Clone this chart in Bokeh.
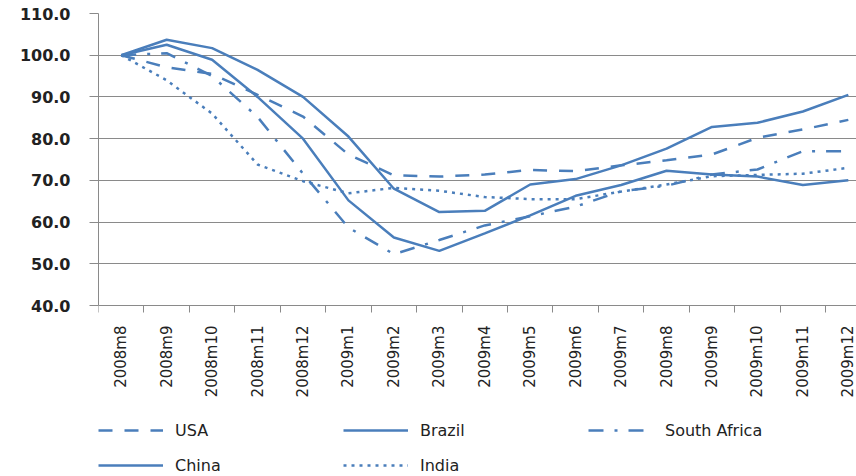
import math

from bokeh.plotting import figure
from bokeh.models import FixedTicker, Legend, LegendItem
from bokeh.embed import file_html
from bokeh.resources import INLINE

# Monthly index values, 2008m8 = 100
months = ["2008m8", "2008m9", "2008m10", "2008m11", "2008m12",
          "2009m1", "2009m2", "2009m3", "2009m4", "2009m5", "2009m6",
          "2009m7", "2009m8", "2009m9", "2009m10", "2009m11", "2009m12"]
usa = [100.0, 97.1, 95.5, 90.5, 85.3, 76.2, 71.2, 70.9, 71.4, 72.5, 72.2,
       73.6, 74.8, 76.2, 80.2, 82.2, 84.5]
brazil = [100.0, 102.5, 98.9, 90.0, 80.0, 65.2, 56.3, 53.1, 57.3, 61.6, 66.3,
          68.9, 72.3, 71.4, 70.9, 68.9, 70.0]
south_africa = [100.0, 100.5, 95.0, 85.2, 71.6, 58.7, 52.3, 55.7, 59.2, 61.4, 63.7,
                67.4, 68.7, 71.4, 72.6, 77.0, 77.0]
china = [100.0, 103.7, 101.7, 96.5, 90.0, 80.5, 68.0, 62.4, 62.7, 69.0, 70.3,
         73.6, 77.6, 82.8, 83.8, 86.5, 90.5]
india = [100.0, 94.0, 86.0, 73.8, 69.8, 66.9, 68.2, 67.5, 66.0, 65.5, 65.5,
         67.3, 69.0, 71.0, 71.3, 71.6, 73.0]
y_ticks = [40, 50, 60, 70, 80, 90, 100, 110]

BLUE = "#4A7EBB"
GRID = "#8a8a8a"
TEXT = "#222222"
FONT = "DejaVu Sans"

xs = list(range(len(months)))

# The frame runs to the bottom of the canvas; the value axis covers 40-110 in
# the upper part and the month labels and legend sit in the space beneath it.
Y_MIN, Y_MAX = 40, 110
plot_h = 292                      # pixels from 40 to 110
below_h = 476 - 13 - plot_h       # room for month labels and legend
y_start = Y_MIN - below_h * (Y_MAX - Y_MIN) / plot_h

p = figure(width=856, height=476, x_range=(-0.5, 16.18), y_range=(y_start, Y_MAX),
           output_backend="svg", toolbar_location=None,
           min_border_left=98, min_border_top=13, min_border_right=0,
           min_border_bottom=0)
p.outline_line_color = None
p.background_fill_color = "white"
p.border_fill_color = "white"

# horizontal gridlines only
p.xgrid.visible = False
p.ygrid.ticker = FixedTicker(ticks=y_ticks)
p.ygrid.grid_line_color = GRID
p.ygrid.grid_line_width = 1

# y axis: one decimal labels, outside ticks
p.yaxis.ticker = FixedTicker(ticks=y_ticks)
p.yaxis.bounds = (Y_MIN, Y_MAX)
p.yaxis.major_label_overrides = {t: f"{t:.1f}" for t in y_ticks}
p.yaxis.axis_line_color = GRID
p.yaxis.major_tick_line_color = GRID
p.yaxis.major_tick_out = 9
p.yaxis.major_tick_in = 0
p.yaxis.minor_tick_line_color = None
p.yaxis.major_label_standoff = 19
p.yaxis.major_label_text_font = FONT
p.yaxis.major_label_text_font_size = "16px"
p.yaxis.major_label_text_font_style = "bold"
p.yaxis.major_label_text_color = TEXT

# x axis pinned at 40: month labels at category centres, ticks between categories
p.xaxis.fixed_location = Y_MIN
p.xaxis.ticker = FixedTicker(ticks=xs, minor_ticks=[i - 0.5 for i in range(len(months) + 1)])
p.xaxis.major_label_overrides = {i: m for i, m in enumerate(months)}
p.xaxis.major_label_orientation = math.pi / 2
p.xaxis.axis_line_color = GRID
p.xaxis.major_tick_line_color = None
p.xaxis.major_tick_out = 0
p.xaxis.major_tick_in = 0
p.xaxis.minor_tick_line_color = GRID
p.xaxis.minor_tick_out = 7
p.xaxis.minor_tick_in = 0
p.xaxis.major_label_standoff = 13
p.xaxis.major_label_text_font = FONT
p.xaxis.major_label_text_font_size = "15px"
p.xaxis.major_label_text_color = TEXT

lw = 2.5
r_usa = p.line(xs, usa, line_color=BLUE, line_width=lw, line_dash="14 12")
r_bra = p.line(xs, brazil, line_color=BLUE, line_width=lw)
r_saf = p.line(xs, south_africa, line_color=BLUE, line_width=lw, line_dash="15 11 3 11")
r_chn = p.line(xs, china, line_color=BLUE, line_width=lw)
r_ind = p.line(xs, india, line_color=BLUE, line_width=lw, line_dash="3 5")

# legend in two rows of three columns at the foot of the chart
legend = Legend(
    items=[LegendItem(label="USA", renderers=[r_usa]),
           LegendItem(label="Brazil", renderers=[r_bra]),
           LegendItem(label="South Africa", renderers=[r_saf]),
           LegendItem(label="China", renderers=[r_chn]),
           LegendItem(label="India", renderers=[r_ind])],
    orientation="horizontal", ncols=3, location=(0, 0),
    glyph_width=65, glyph_height=22, label_width=155, label_height=22,
    label_standoff=12, spacing=13, padding=0, margin=0,
    label_text_font=FONT, label_text_font_size="16px", label_text_color=TEXT,
    border_line_color=None, background_fill_alpha=0,
)
p.add_layout(legend, "center")

open("out.html", "w").write(file_html(p, INLINE))
